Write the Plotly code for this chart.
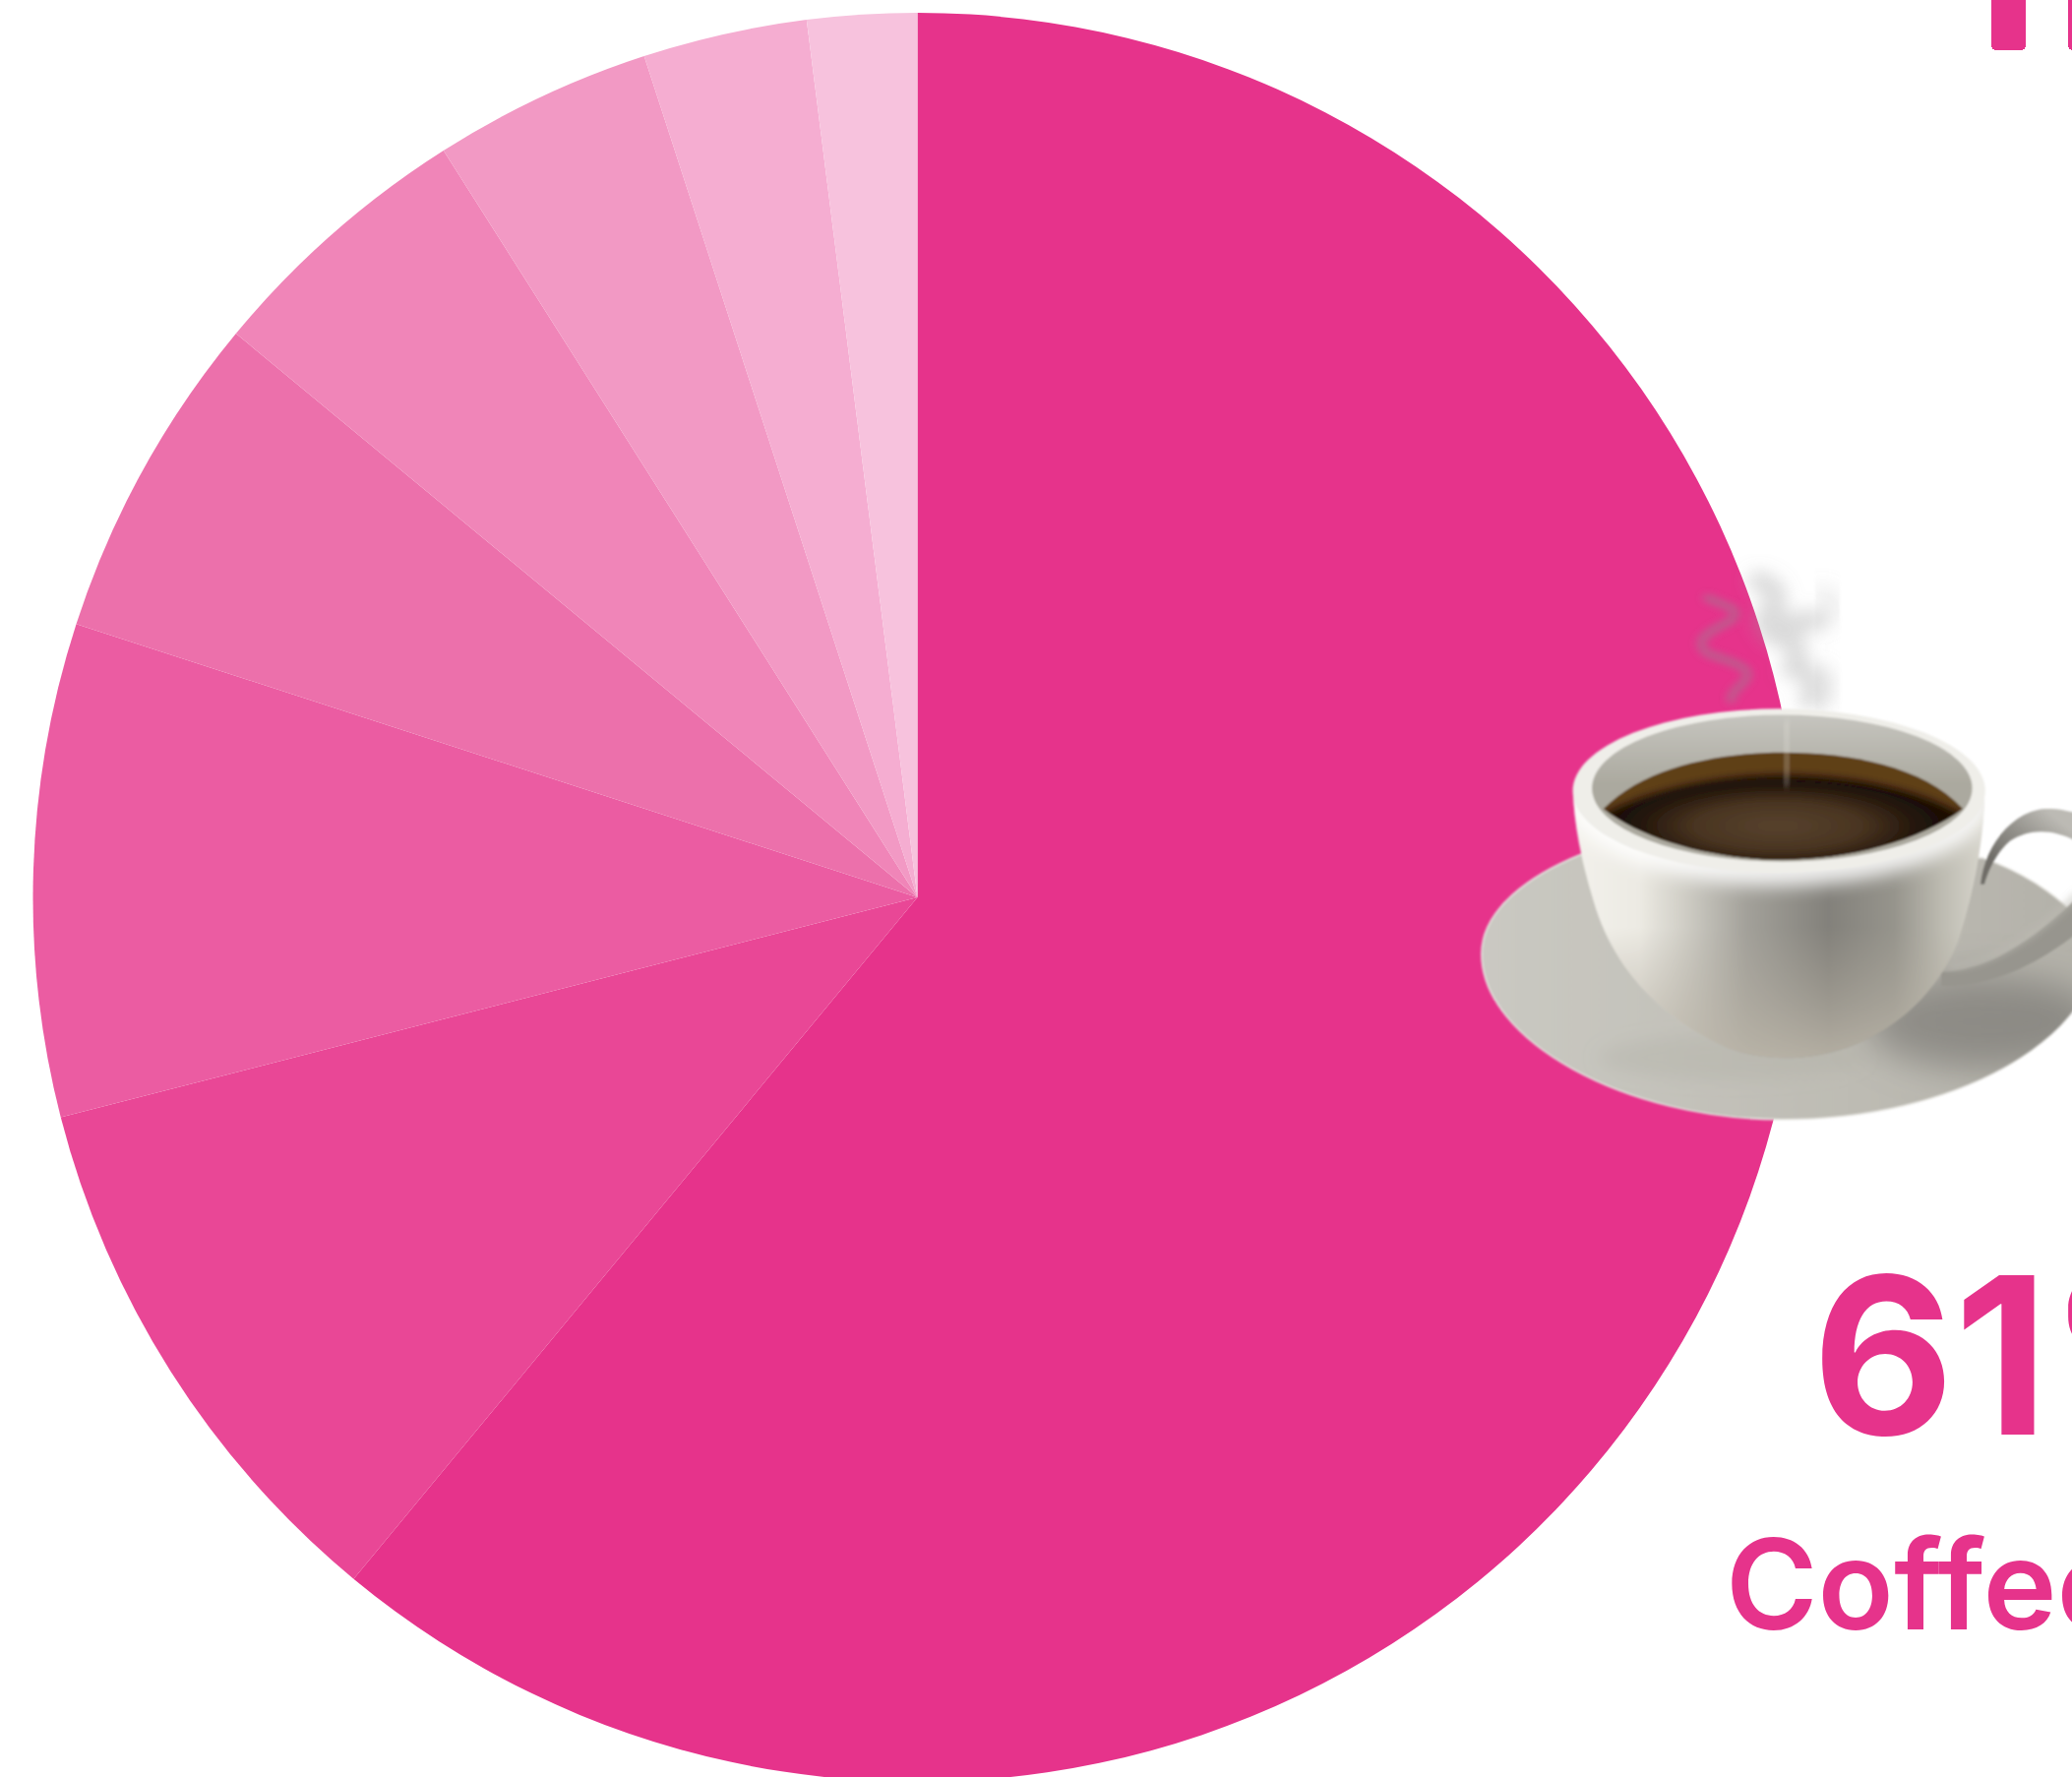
import base64
import plotly.graph_objects as go

# ---- data ----
slice_labels = ["Coffee", "Slice 2", "Slice 3", "Slice 4", "Slice 5", "Slice 6", "Slice 7", "Slice 8"]
slice_values = [61, 10, 9, 6, 5, 4, 3, 2]
slice_colors = ["#E6338B", "#E94796", "#EB5CA2", "#EC70AB", "#F085B8", "#F299C4", "#F5ADD1", "#F7C2DD"]
bar_positions = [2041.5, 2119.5]
bar_values = [51, 51]
headline_value = "61%"
headline_label = "Coffee"
PINK = "#E6338B"

W, H = 2106, 1830  # the figure runs below the window, the pie is cut by the window edge

BODY = "M298 640C300 720 318 820 350 930C400 1110 520 1240 690 1320C760 1348 860 1358 960 1330C1110 1290 1230 1170 1280 1030C1320 900 1345 760 1345 640Z"
cup_svg = f"""<svg xmlns="http://www.w3.org/2000/svg" width="626" height="600" viewBox="0 0 1568 1568" preserveAspectRatio="none">
<defs>
<filter id="soft" x="-5%" y="-5%" width="110%" height="110%"><feGaussianBlur stdDeviation="3"/></filter>
<filter id="b6" x="-50%" y="-50%" width="200%" height="200%"><feGaussianBlur stdDeviation="10"/></filter>
<filter id="b14" x="-50%" y="-50%" width="200%" height="200%"><feGaussianBlur stdDeviation="22"/></filter>
<filter id="b30" x="-50%" y="-50%" width="200%" height="200%"><feGaussianBlur stdDeviation="48"/></filter>
<linearGradient id="body" x1="300" x2="1345" y1="0" y2="0" gradientUnits="userSpaceOnUse">
<stop offset="0" stop-color="#F3F1EB"/><stop offset="0.16" stop-color="#ECEAE3"/><stop offset="0.26" stop-color="#D2D0C8"/>
<stop offset="0.42" stop-color="#A3A19A"/><stop offset="0.62" stop-color="#83817B"/><stop offset="0.78" stop-color="#96948C"/>
<stop offset="0.9" stop-color="#BEBCB2"/><stop offset="1" stop-color="#D8D6CD"/></linearGradient>
<linearGradient id="bodyv" x1="0" x2="0" y1="1000" y2="1350" gradientUnits="userSpaceOnUse">
<stop offset="0" stop-color="#B0AA9E" stop-opacity="0"/><stop offset="1" stop-color="#BDB7AA" stop-opacity="0.85"/></linearGradient>
<linearGradient id="wall" x1="0" x2="0" y1="435" y2="620" gradientUnits="userSpaceOnUse">
<stop offset="0" stop-color="#C6C5BF"/><stop offset="1" stop-color="#ABA99F"/></linearGradient>
<radialGradient id="cof" cx="820" cy="730" r="420" gradientUnits="userSpaceOnUse" gradientTransform="translate(0 511) scale(1 0.3)">
<stop offset="0" stop-color="#57422E"/><stop offset="0.5" stop-color="#4A3521"/><stop offset="0.85" stop-color="#22150A"/><stop offset="1" stop-color="#1A0F06"/></radialGradient>
<linearGradient id="sau" x1="65" x2="1600" y1="0" y2="0" gradientUnits="userSpaceOnUse">
<stop offset="0" stop-color="#CAC9C2"/><stop offset="0.6" stop-color="#BEBCB4"/><stop offset="1" stop-color="#B3B1A9"/></linearGradient>
<clipPath id="saucerclip"><path d="M65 1070C65 950 190 860 320 805L1340 815C1450 855 1568 930 1640 1050C1620 1300 1270 1510 830 1510C430 1510 65 1300 65 1070Z"/></clipPath>
<clipPath id="coffeeclip"><path d="M375 685C480 570 680 535 830 535C1000 535 1190 570 1290 685C1180 770 1000 820 830 820C660 820 480 770 375 685Z"/></clipPath>
<clipPath id="bodyclip"><path d="{BODY}"/></clipPath>
<linearGradient id="hand" x1="1500" x2="1380" y1="685" y2="830" gradientUnits="userSpaceOnUse">
<stop offset="0" stop-color="#BCBAB4"/><stop offset="0.45" stop-color="#96948E"/><stop offset="1" stop-color="#6F6D68"/></linearGradient>
</defs>
<g filter="url(#soft)">
<!-- steam -->
<g fill="none" stroke-linecap="round">
<path d="M640 125C690 150 730 150 700 185C640 215 600 240 640 272C700 295 770 310 730 350C710 370 700 380 700 395" stroke="#8F8C90" stroke-opacity="0.45" stroke-width="22" filter="url(#b6)"/>
<path d="M770 80C830 100 820 130 790 180C830 190 900 200 910 180M800 220C860 230 880 260 860 310C900 320 930 350 900 395" stroke="#9A9A9A" stroke-opacity="0.36" stroke-width="56" filter="url(#b14)"/>
<path d="M930 110C980 130 960 170 930 190M930 320C960 350 950 380 930 410" stroke="#BDBDBD" stroke-opacity="0.26" stroke-width="44" filter="url(#b14)"/>
</g>
<!-- saucer -->
<path d="M65 1070C65 950 190 860 320 805L1340 815C1450 855 1568 930 1640 1050C1620 1300 1270 1510 830 1510C430 1510 65 1300 65 1070Z" fill="url(#sau)" stroke="#E6E5E0" stroke-width="4"/>
<g clip-path="url(#saucerclip)">
<ellipse cx="1340" cy="1250" rx="300" ry="125" fill="#73716C" fill-opacity="0.62" filter="url(#b30)"/>
<ellipse cx="700" cy="1345" rx="340" ry="60" fill="#A5A39C" fill-opacity="0.22" filter="url(#b14)"/>
</g>
<!-- handle -->
<path d="M1335 885C1345 780 1420 690 1500 685C1530 683 1560 690 1610 705L1610 790C1540 740 1470 730 1410 770C1375 800 1355 850 1345 885Z" fill="url(#hand)"/>
<path d="M1235 1118C1340 1115 1460 1050 1600 900L1600 1000C1480 1100 1360 1160 1235 1155Z" fill="#97958E"/>
<path d="M1255 1105C1360 1100 1470 1030 1590 905" fill="none" stroke="#BDBBB3" stroke-width="10" filter="url(#b6)"/>
<!-- cup body -->
<path d="{BODY}" fill="url(#body)"/>
<path d="{BODY}" fill="url(#bodyv)"/>
<g clip-path="url(#bodyclip)">
<ellipse cx="822" cy="665" rx="535" ry="225" fill="#FFFFFF" fill-opacity="0.85" filter="url(#b14)"/>
</g>
<!-- rim -->
<ellipse cx="822" cy="637" rx="525" ry="218" fill="#EFEEE9"/>
<ellipse cx="830" cy="630" rx="484" ry="195" fill="url(#wall)"/>
<!-- coffee -->
<path d="M375 685C480 570 680 535 830 535C1000 535 1190 570 1290 685C1180 770 1000 820 830 820C660 820 480 770 375 685Z" fill="#5F3F19"/>
<g clip-path="url(#coffeeclip)"><path d="M340 720C480 630 680 595 830 595C1000 595 1190 630 1320 720L1320 860L340 860Z" fill="url(#cof)" filter="url(#b6)"/></g>
<path d="M845 450C835 500 850 560 838 625" fill="none" stroke="#E8E6DF" stroke-opacity="0.4" stroke-width="16" filter="url(#b6)"/>
</g>
</svg>"""
cup_uri = "data:image/svg+xml;base64," + base64.b64encode(cup_svg.encode()).decode()

fig = go.Figure()

fig.add_trace(go.Bar(
    x=bar_positions, y=bar_values, width=35,
    marker=dict(color=PINK, line=dict(width=0), cornerradius=5),
    hoverinfo="skip", showlegend=False,
))

fig.add_trace(go.Pie(
    labels=slice_labels, values=slice_values,
    marker=dict(colors=slice_colors, line=dict(width=0)),
    sort=False, direction="clockwise", rotation=0,
    textinfo="none", hoverinfo="skip", showlegend=False,
    domain=dict(x=[33.5 / W, 1831.5 / W], y=[(H - 1811) / H, (H - 13) / H]),
))

fig.add_annotation(text=headline_value, x=1840, y=1377, xref="x", yref="y", xanchor="left", yanchor="middle",
                   showarrow=False, font=dict(family="Inter", size=222, color=PINK, weight=700))
fig.add_annotation(text=headline_label, x=1752, y=1610, xref="x", yref="y", xanchor="left", yanchor="middle",
                   showarrow=False, font=dict(family="Inter", size=127, color=PINK, weight=600))

fig.add_layout_image(source=cup_uri, xref="x", yref="y", x=1480, y=560, sizex=626, sizey=600,
                     xanchor="left", yanchor="top", sizing="stretch", layer="above")

fig.update_layout(
    width=W, height=H, margin=dict(l=0, r=0, t=0, b=0, pad=0),
    paper_bgcolor="white", plot_bgcolor="white",
    xaxis=dict(range=[0, W], visible=False, fixedrange=True),
    yaxis=dict(range=[H, 0], visible=False, fixedrange=True),
    bargap=0,
)

fig.write_html("out.html", config=dict(displayModeBar=False, responsive=False),
               post_script="document.documentElement.style.overflow='hidden';"
                           "document.documentElement.style.height='1806px';"
                           "document.body.style.margin='0';document.body.style.height='1806px';"
                           "document.body.style.overflow='hidden';")
